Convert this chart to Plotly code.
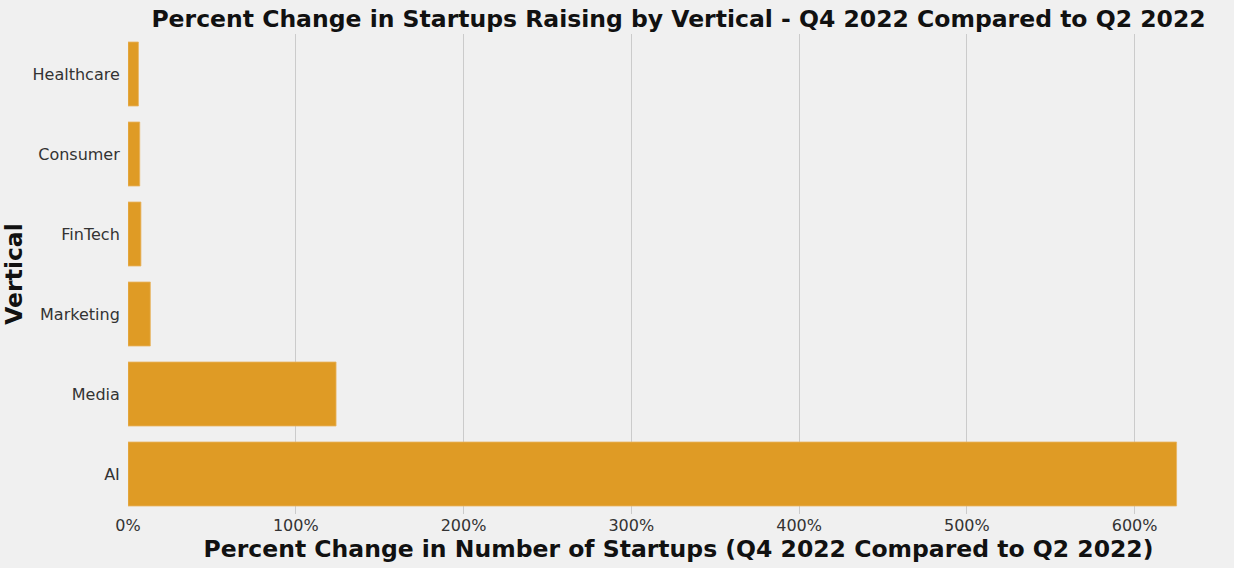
import plotly.graph_objects as go

verticals = ["Healthcare", "Consumer", "FinTech", "Marketing", "Media", "AI"]
pct_change = [6.2, 7.0, 7.7, 13.3, 124.0, 625.0]
x_tick_vals = [0, 100, 200, 300, 400, 500, 600]
x_tick_text = ["0%", "100%", "200%", "300%", "400%", "500%", "600%"]

BG = "#f0f0f0"
BAR = "#df9b25"
FONT = "DejaVu Sans"
W, H = 1234, 568
L, R, T, B = 128, 5, 34, 54

fig = go.Figure()
fig.add_trace(go.Bar(
    x=pct_change, y=verticals, orientation="h",
    marker=dict(color=BAR, line=dict(color="#e8b460", width=0.8)),
    width=0.8,
))

fig.update_layout(
    width=W, height=H,
    paper_bgcolor=BG, plot_bgcolor=BG,
    margin=dict(l=L, r=R, t=T, b=B),
    showlegend=False,
    font=dict(family=FONT, color="#333333", size=16),
    title=dict(
        text="<b>Percent Change in Startups Raising by Vertical - Q4 2022 Compared to Q2 2022</b>",
        x=(L + W - R) / 2 / W, xref="container", xanchor="center",
        y=1 - 19 / H, yanchor="middle",
        font=dict(family=FONT, size=23.5, color="#111111"),
    ),
)

fig.update_xaxes(
    range=[0, 656.25], tickvals=x_tick_vals, ticktext=x_tick_text,
    showgrid=True, gridcolor="#cbcbcb", gridwidth=1,
    zeroline=False, showline=False,
    ticks="",
    tickfont=dict(family=FONT, size=16, color="#333333"),
    title=dict(text="<b>Percent Change in Number of Startups (Q4 2022 Compared to Q2 2022)</b>",
               font=dict(family=FONT, size=23.5, color="#111111"), standoff=4),
)
fig.update_yaxes(
    categoryorder="array", categoryarray=verticals,
    range=[5.5, -0.5],
    showgrid=False, zeroline=False, showline=False,
    ticks="outside", ticklen=4, tickcolor="rgba(0,0,0,0)",
    tickfont=dict(family=FONT, size=16, color="#333333"),
    title=dict(text="<b>Vertical</b>", font=dict(family=FONT, size=23.5, color="#111111"), standoff=8),
)

fig.write_html("out.html", config={"displayModeBar": False})

with open("out.html", "r", encoding="utf-8") as f:
    html = f.read()
html = html.replace("<head>", "<head><style>html,body{margin:0;padding:0;overflow:hidden;background:#f0f0f0}</style>", 1)
with open("out.html", "w", encoding="utf-8") as f:
    f.write(html)
